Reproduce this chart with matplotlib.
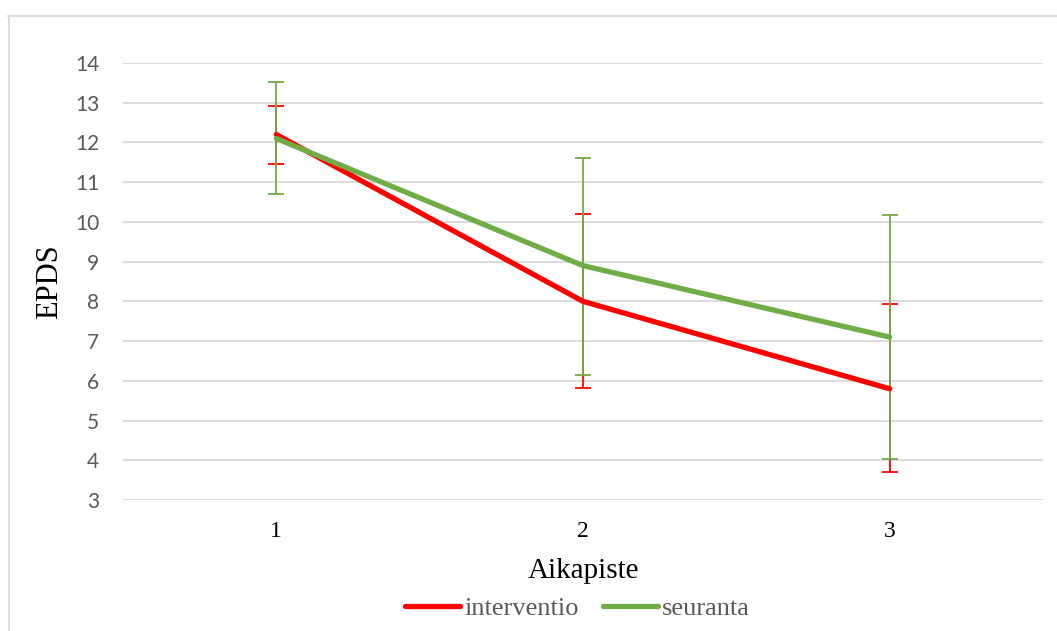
import matplotlib
matplotlib.use("Agg")
import matplotlib.pyplot as plt
from matplotlib.lines import Line2D
import numpy as np

timepoints = ["1", "2", "3"]
interventio = [12.2, 8.0, 5.8]
interventio_low = [11.45, 5.82, 3.70]
interventio_high = [12.92, 10.2, 7.93]
seuranta = [12.1, 8.9, 7.1]
seuranta_low = [10.7, 6.15, 4.03]
seuranta_high = [13.52, 11.62, 10.18]
yticks = list(range(3, 15))

RED = "#FF0000"
GREEN = "#70AD47"
GREY = "#595959"

fig = plt.figure(figsize=(10.57, 6.31), dpi=100)
ax = fig.add_axes([123/1057, 1-500/631, (1043-123)/1057, (500-63)/631])

x = np.arange(1, len(timepoints) + 1)

def err(vals, low, high):
    v = np.array(vals); return [v - np.array(low), np.array(high) - v]

ax.errorbar(x, interventio, yerr=err(interventio, interventio_low, interventio_high),
            fmt="none", ecolor=RED, elinewidth=1.3, capsize=6, capthick=1.3, zorder=3)
ax.errorbar(x, seuranta, yerr=err(seuranta, seuranta_low, seuranta_high),
            fmt="none", ecolor=GREEN, elinewidth=1.3, capsize=6, capthick=1.3, zorder=4)
ax.plot(x, interventio, color=RED, lw=3.8, solid_capstyle="round", label="interventio", zorder=5)
ax.plot(x, seuranta, color=GREEN, lw=3.8, solid_capstyle="round", label="seuranta", zorder=6)

ax.set_xlim(0.5, 3.5)
ax.set_ylim(3, 14)
ax.set_yticks(yticks)
ax.set_yticklabels([str(t) for t in yticks], fontsize=15, color=GREY, family="Lato")
ax.set_xticks(x)
ax.set_xticklabels(timepoints, fontsize=17, family="Liberation Serif", color="black")
ax.tick_params(axis="both", length=0)
ax.tick_params(axis="y", pad=17)
ax.tick_params(axis="x", pad=15)
ax.grid(axis="y", color="#D9D9D9", lw=1.3)
ax.set_axisbelow(True)
for s in ax.spines.values():
    s.set_visible(False)

ax.set_ylabel("EPDS", fontsize=22, family="Liberation Serif", labelpad=8)
ax.set_xlabel("Aikapiste", fontsize=21, family="Liberation Serif", labelpad=12)

leg = ax.legend(loc="center", bbox_to_anchor=(0.494, -0.248), ncol=2, frameon=False,
                prop={"family": "Liberation Serif", "size": 19}, handlelength=2.1,
                handletextpad=0.15, columnspacing=0.9)
for t in leg.get_texts():
    t.set_color(GREY)

# outer chart border (partially visible)
fig.add_artist(Line2D([8/1057, 1.0], [1-16/631, 1-16/631], transform=fig.transFigure,
                      color="#D9D9D9", lw=1.3))
fig.add_artist(Line2D([9/1057, 9/1057], [1-16/631, 0.0], transform=fig.transFigure,
                      color="#D9D9D9", lw=1.3))

fig.savefig("out.png", dpi=100)
